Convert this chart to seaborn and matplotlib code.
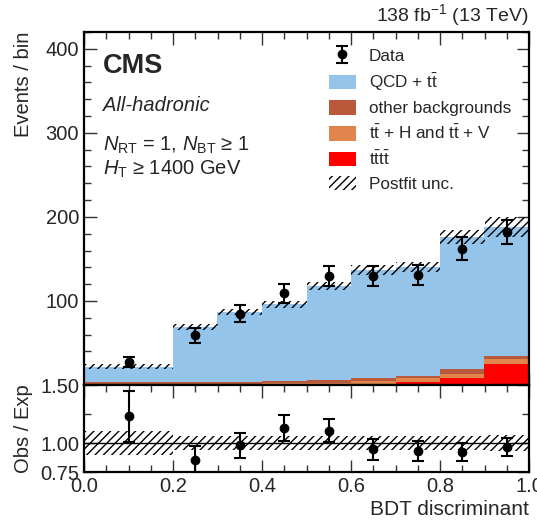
import numpy as np
import pandas as pd
import matplotlib
matplotlib.use("Agg")
import matplotlib.pyplot as plt
from matplotlib.patches import Patch
from matplotlib.ticker import MultipleLocator, FixedLocator
import seaborn as sns

# ---------------- data ----------------
bin_edges = [0.0, 0.2, 0.3, 0.4, 0.5, 0.6, 0.7, 0.8, 0.9, 1.0]
bin_centers = [0.1, 0.25, 0.35, 0.45, 0.55, 0.65, 0.75, 0.85, 0.95]

qcd_tt = [18.3, 65.3, 83.1, 91.2, 112.6, 129.1, 128.8, 157.5, 153.6]
other_bkg = [3.0, 3.0, 3.1, 3.0, 3.0, 3.5, 3.2, 5.3, 3.4]
ttx = [0.6, 0.6, 0.6, 1.4, 1.8, 3.2, 4.8, 5.2, 6.0]
tttt = [0.1, 0.1, 0.2, 0.4, 0.6, 1.2, 3.2, 8.0, 25.0]

postfit_unc = [2.4, 3.4, 3.6, 4.0, 5.0, 6.0, 6.0, 8.4, 12.0]

data_vals = [27, 59, 85, 109, 130, 130, 131, 162, 182]
data_errs = [6.0, 8.5, 10.0, 11.5, 12.0, 12.0, 12.0, 13.5, 14.0]

ratio_vals = [1.23, 0.85, 0.98, 1.13, 1.105, 0.947, 0.93, 0.922, 0.967]
ratio_errs = [0.22, 0.12, 0.11, 0.115, 0.10, 0.09, 0.085, 0.08, 0.077]
ratio_unc = [0.10, 0.06, 0.06, 0.06, 0.06, 0.06, 0.06, 0.06, 0.065]

labels = ["QCD + t$\\bar{\\mathrm{t}}$", "other backgrounds",
          "t$\\bar{\\mathrm{t}}$ + H and t$\\bar{\\mathrm{t}}$ + V",
          "t$\\bar{\\mathrm{t}}$t$\\bar{\\mathrm{t}}$"]
colors = ["#95c4ea", "#b9583b", "#e0864c", "#ff0000"]

# ---------------- style ----------------
sns.set_theme(style="ticks")
plt.rcParams["font.family"] = ["Liberation Sans", "DejaVu Sans"]
plt.rcParams["mathtext.fontset"] = "custom"
plt.rcParams["mathtext.rm"] = "Liberation Sans"
plt.rcParams["mathtext.it"] = "Liberation Sans:italic"
plt.rcParams["mathtext.bf"] = "Liberation Sans:bold"
plt.rcParams["hatch.linewidth"] = 1.0

W, H = 537, 521
fig = plt.figure(figsize=(W / 100, H / 100), dpi=100)
L, R = 84, 529
T1, B1, B2 = 32, 385, 472
ax = fig.add_axes([L / W, 1 - B1 / H, (R - L) / W, (B1 - T1) / H])
rax = fig.add_axes([L / W, 1 - B2 / H, (R - L) / W, (B2 - B1) / H], sharex=ax)

# stacked histogram via seaborn
rows = []
for lab, vals in zip(labels, [qcd_tt, other_bkg, ttx, tttt]):
    for c, v in zip(bin_centers, vals):
        rows.append({"x": c, "w": v, "proc": lab})
df = pd.DataFrame(rows)
sns.histplot(data=df, x="x", weights="w", hue="proc", hue_order=labels,
             palette=dict(zip(labels, colors)), bins=bin_edges,
             multiple="stack", element="step", fill=True, alpha=1.0,
             linewidth=0, legend=False, ax=ax)

edges = np.array(bin_edges)
widths = np.diff(edges)
total = np.array(qcd_tt) + np.array(other_bkg) + np.array(ttx) + np.array(tttt)
unc = np.array(postfit_unc)
ax.bar(edges[:-1], 2 * unc, bottom=total - unc, width=widths, align="edge",
       fill=False, hatch="////", linewidth=0, edgecolor="black", zorder=3)

eb = ax.errorbar(bin_centers, data_vals, yerr=data_errs, fmt="o", color="black",
                 markersize=6, capsize=4, elinewidth=1.5, capthick=1.5, zorder=5)

ax.set_xlim(0, 1)
ax.set_ylim(0, 420)
ax.yaxis.set_major_locator(FixedLocator([100, 200, 300, 400]))
ax.yaxis.set_minor_locator(MultipleLocator(20))
ax.xaxis.set_major_locator(MultipleLocator(0.2))
ax.xaxis.set_minor_locator(MultipleLocator(0.05))
ax.tick_params(axis="x", labelbottom=False)
ax.set_ylabel("Events / bin", fontsize=14.5, loc="top")
ax.yaxis.set_label_coords(-0.115, 1.0)
ax.set_xlabel("")

for a in (ax, rax):
    a.tick_params(which="both", direction="in", top=True, right=True,
                  labelsize=14.5, width=1.0, color="#333333")
    a.tick_params(which="major", length=9)
    a.tick_params(which="minor", length=5)
    for s in a.spines.values():
        s.set_linewidth(1.6)
        s.set_color("black")

# texts
ax.text(0.043, 0.905, "CMS", transform=ax.transAxes, fontsize=19.5,
        fontweight="bold", va="center", ha="left")
ax.text(0.043, 0.792, "All-hadronic", transform=ax.transAxes, fontsize=14.5,
        fontstyle="italic", va="center", ha="left")
ax.text(0.043, 0.678, "$N_{\\mathrm{RT}}$ = 1, $N_{\\mathrm{BT}}$ ≥ 1",
        transform=ax.transAxes, fontsize=14.5, va="center", ha="left")
ax.text(0.043, 0.612, "$H_{\\mathrm{T}}$ ≥ 1400 GeV", transform=ax.transAxes,
        fontsize=14.5, va="center", ha="left")
ax.text(1.0, 1.012, "138 fb$^{-1}$ (13 TeV)", transform=ax.transAxes,
        fontsize=14, va="bottom", ha="right")

handles = [eb] + [Patch(facecolor=c, edgecolor="none") for c in colors] + \
    [Patch(facecolor="none", edgecolor="black", hatch="////", linewidth=0)]
leg = ax.legend(handles, ["Data"] + labels + ["Postfit unc."], loc="upper left",
                bbox_to_anchor=(0.55, 0.955), frameon=False, fontsize=12.3,
                handlelength=1.6, handleheight=0.9, handletextpad=0.75,
                labelspacing=0.45, borderpad=0, borderaxespad=0)

# ratio panel
rax.bar(edges[:-1], 2 * np.array(ratio_unc), bottom=1 - np.array(ratio_unc),
        width=widths, align="edge", fill=False, hatch="////", linewidth=0,
        edgecolor="black", zorder=2)
rax.axhline(1.0, color="black", linewidth=1.0, zorder=3)
rax.errorbar(bin_centers, ratio_vals, yerr=ratio_errs, fmt="o", color="black",
             markersize=6, capsize=4, elinewidth=1.5, capthick=1.5, zorder=5,
             clip_on=True)
rax.set_ylim(0.75, 1.5)
rax.set_xlim(0, 1)
rax.yaxis.set_major_locator(FixedLocator([0.75, 1.0, 1.5]))
rax.yaxis.set_minor_locator(FixedLocator([1.25]))
rax.set_yticklabels(["0.75", "1.00", "1.50"])
rax.xaxis.set_major_locator(MultipleLocator(0.2))
rax.xaxis.set_minor_locator(MultipleLocator(0.05))
rax.set_ylabel("Obs / Exp", fontsize=14.5)
rax.yaxis.set_label_coords(-0.115, 0.5)
rax.set_xlabel("BDT discriminant", fontsize=15, loc="right", labelpad=3)

fig.savefig("out.png", dpi=100)
